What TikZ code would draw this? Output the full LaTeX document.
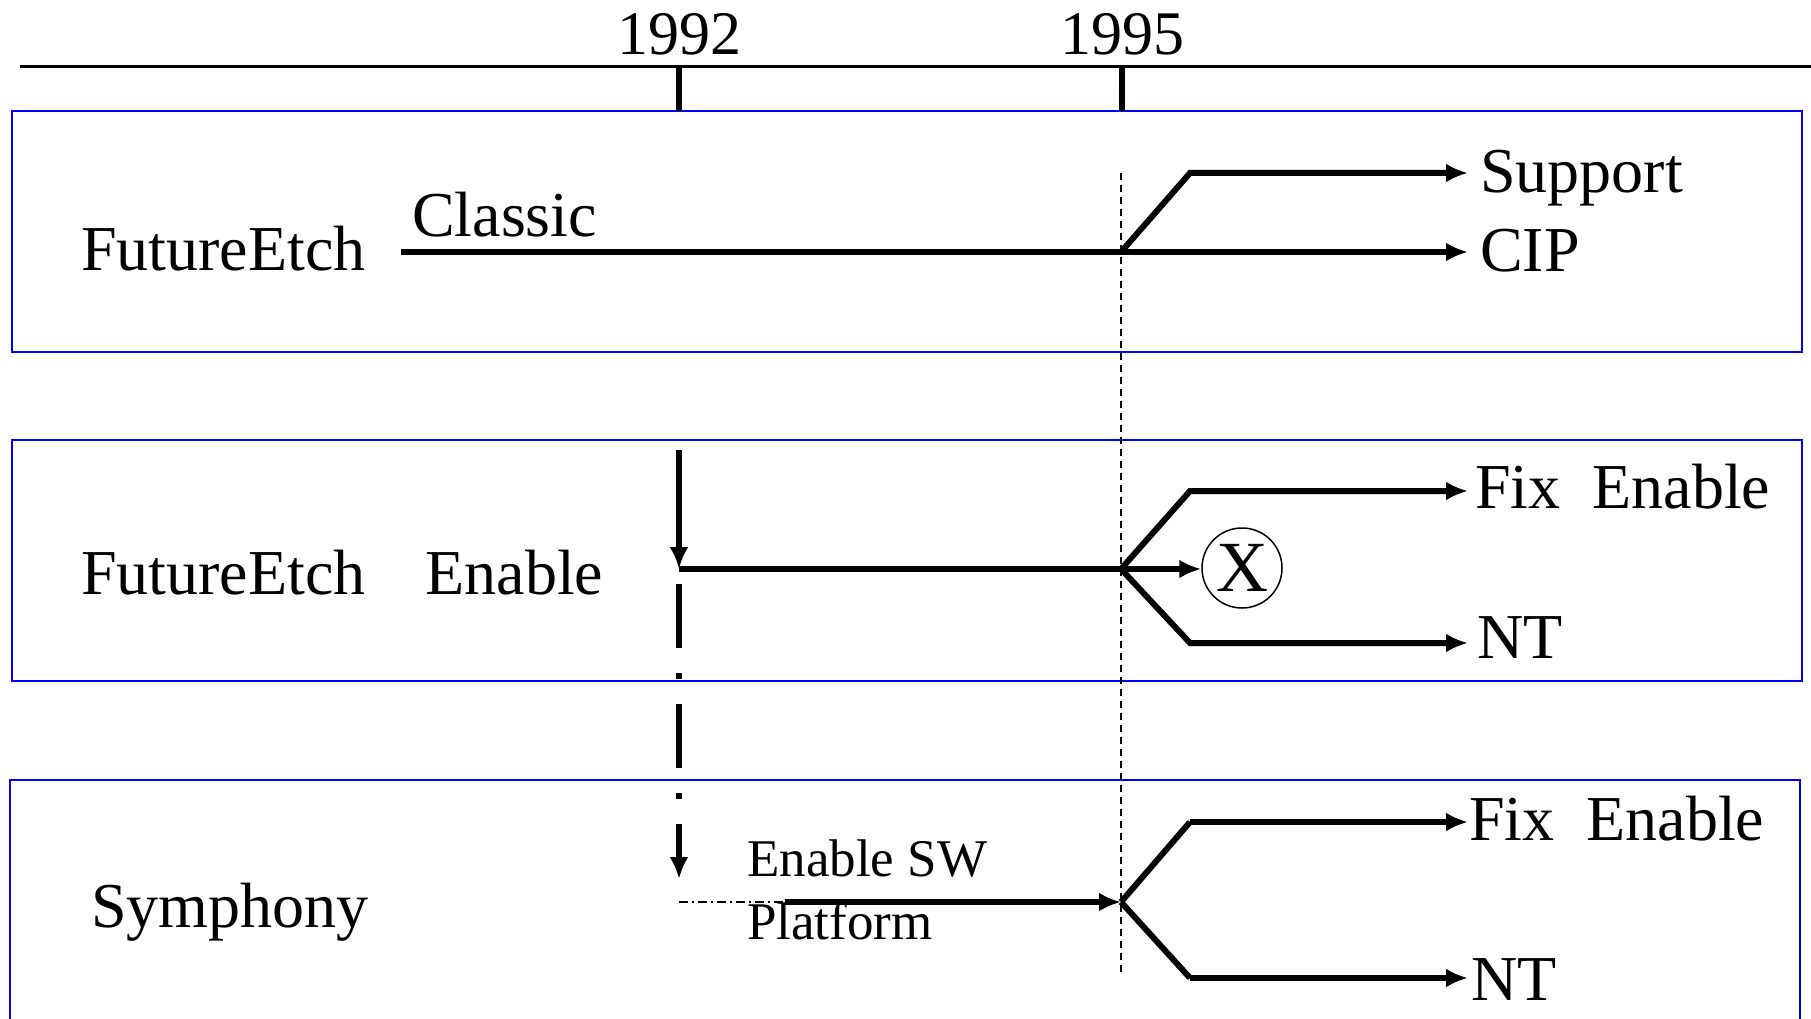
\documentclass[tikz,border=0pt]{standalone}
\usepackage{fontspec}
\setmainfont{Liberation Serif}
\usetikzlibrary{arrows.meta}
\begin{document}
\begin{tikzpicture}[x=1pt,y=-1pt,
  lbl/.style={anchor=base west,inner sep=0pt,font=\fontsize{64}{70}\selectfont},
  small/.style={anchor=base west,inner sep=0pt,font=\fontsize{53}{60}\selectfont},
  year/.style={anchor=base,inner sep=0pt,font=\fontsize{62}{70}\selectfont},
  lane/.style={draw=blue,line width=2pt},
  flow/.style={line width=6pt,line join=miter},
  flowarr/.style={line width=6pt,line join=miter,-{Latex[length=22pt,width=19pt]}},
  guide/.style={line width=1.3pt,dash pattern=on 7pt off 5pt},
  tick/.style={line width=5.5pt},
]
\useasboundingbox (0,0) rectangle (1811,1019);
\fill[white] (0,0) rectangle (1811,1019);
\clip (0,0) rectangle (1811,1019);

% lanes
\draw[lane] (11.5,111) rectangle (1802,352);
\draw[lane] (11.5,440) rectangle (1802,681);
\draw[lane] (10,780) rectangle (1800,1040);

% time axis
\coordinate (axL) at (20,67);
\coordinate (axR) at (1811,67);
\draw[line width=3pt] (axL) -- (axR);
\coordinate (t92) at (679,67);
\coordinate (t92b) at (679,111);
\coordinate (t95) at (1122,67);
\coordinate (t95b) at (1122,111);
\draw[tick] (t92) -- (t92b);
\draw[tick] (t95) -- (t95b);
\node[year] (y92) at (679,55) {1992};
\node[year] (y95) at (1122,55) {1995};

% 1995 guide
\coordinate (gTop) at (1121,173);
\coordinate (gBot) at (1121,976);
\draw[guide] (gTop) -- (gBot);

% row 1
\node[lbl] (fe1) at (81,270) {FutureEtch};
\node[lbl] (classic) at (412,236) {Classic};
\node[lbl] (support) at (1480,193) {Support};
\node[lbl] (cip) at (1480,271) {CIP};
\coordinate (c0) at (401,252);
\coordinate (j1) at (1121,252);
\coordinate (s1) at (1190,173);
\coordinate (supIn) at (1468,173);
\coordinate (cipIn) at (1468,252);
\draw[flowarr] (c0) -- (cipIn);
\draw[flowarr] (j1) -- (s1) -- (supIn);

% row 2
\node[lbl] (fe2) at (81,594) {FutureEtch\hspace{60pt}Enable};
\coordinate (dA) at (679,450);
\coordinate (dB) at (679,569);
\draw[flowarr] (dA) -- (dB);
\coordinate (j2) at (1121,569);
\node[draw,circle,line width=1.5pt,minimum size=80pt,inner sep=0pt,font=\fontsize{72}{72}\selectfont] (xc) at (1242,568) {X};
\draw[flow] (dB) -- (j2);
\draw[flowarr] (j2) -- (xc.west |- j2);
\coordinate (u2) at (1190,491);
\coordinate (u2e) at (1468,491);
\coordinate (l2) at (1190,643);
\coordinate (l2e) at (1468,643);
\draw[flowarr] (j2) -- (u2) -- (u2e);
\draw[flowarr] (j2) -- (l2) -- (l2e);
\node[lbl] (fix2) at (1475,508) {Fix~~Enable};
\node[lbl] (nt2) at (1477,658) {NT};

% dashed transfer arrow
\coordinate (dd1) at (679,584);
\coordinate (dd2) at (679,879);
\draw[line width=6pt,dash pattern=on 64pt off 25pt on 6pt off 25pt,-{Latex[length=22pt,width=19pt]}] (dd1) -- (dd2);

% row 3
\node[lbl] (sym) at (91,927) {Symphony};
\node[small] (esw) at (747,876) {Enable SW};
\node[small] (plat) at (747,939) {Platform};
\coordinate (p0) at (679,902);
\coordinate (p1) at (785,902);
\draw[line width=1.5pt,dash pattern=on 9pt off 4pt on 2pt off 4pt] (p0) -- (p1);
\coordinate (j3) at (1121,902);
\draw[flowarr] (p1) -- (j3);
\coordinate (u3) at (1190,822);
\coordinate (u3e) at (1468,822);
\coordinate (l3) at (1190,978);
\coordinate (l3e) at (1468,978);
\draw[flow] (j3) -- (u3);
\draw[flowarr] (u3) -- (u3e);
\draw[flow] (j3) -- (l3);
\draw[flowarr] (l3) -- (l3e);
\node[lbl] (fix3) at (1469,840) {Fix~~Enable};
\node[lbl] (nt3) at (1471,1000) {NT};
\end{tikzpicture}
\end{document}
